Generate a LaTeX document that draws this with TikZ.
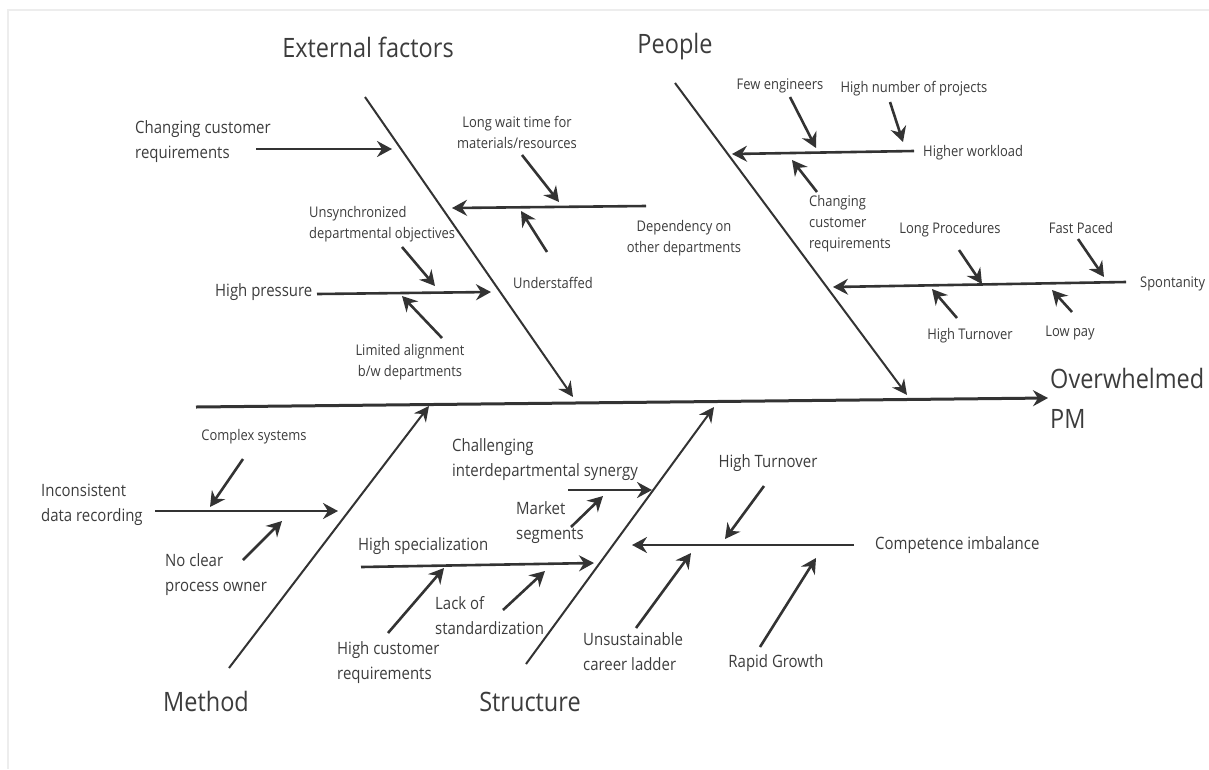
\documentclass[tikz,border=0pt]{standalone}
\usepackage{fontspec}
\setmainfont{Open Sans}[FakeStretch=0.88]
\usepackage{xcolor}
\usetikzlibrary{arrows.meta}
\definecolor{inkgray}{HTML}{333333}
\definecolor{textgray}{HTML}{3C3C3C}
\definecolor{framegray}{HTML}{EDEDED}

\begin{document}
\begin{tikzpicture}[x=1pt,y=-1pt,
  spine/.style={inkgray,line width=3pt,-{Stealth[length=15pt,width=16pt,inset=5pt]}},
  bone/.style={inkgray,line width=2pt,-{Stealth[length=15pt,width=15pt,inset=5pt]}},
  cause/.style={inkgray,line width=2.6pt,-{Stealth[length=15pt,width=16pt,inset=5pt]}},
  titletext/.style={textgray,inner sep=0pt,font=\fontsize{26.7}{40}\selectfont},
  bigtext/.style={textgray,inner sep=0pt,font=\fontsize{17}{25}\selectfont},
  smalltext/.style={textgray,inner sep=0pt,font=\fontsize{14.7}{21}\selectfont}]
  \useasboundingbox (0,0) rectangle (1209,769);
  \draw[framegray,line width=1.5pt] (8,769) -- (8,10) -- (1209,10);

  % category titles and effect
  \node[titletext] (ext) at (368,47) {External factors};
  \node[titletext] (ppl) at (675,47) {People};
  \node[titletext] (mth) at (206,701) {Method};
  \node[titletext] (str) at (530,702) {Structure};
  \node[titletext,anchor=west,align=left] (pm) at (1050,398) {Overwhelmed\\PM};

  % causes: external factors
  \node[bigtext,anchor=west,align=left] (chg) at (135,142) {Changing customer\\requirements};
  \node[smalltext,align=center] (wait) at (517,132) {Long wait time for\\materials/resources};
  \node[smalltext,align=center] (dep) at (684,238) {Dependency on\\other departments};
  \node[smalltext] (staff) at (553,283) {Understaffed};
  \node[smalltext,anchor=west,align=left] (unsync) at (309,224) {Unsynchronized\\departmental objectives};
  \node[bigtext,anchor=west] (press) at (215,292) {High pressure};
  \node[smalltext,align=center] (align) at (410,362) {Limited alignment\\b/w departments};

  % causes: people
  \node[smalltext] (few) at (780,86) {Few engineers};
  \node[smalltext] (proj) at (914,89) {High number of projects};
  \node[smalltext,anchor=west] (work) at (923,153) {Higher workload};
  \node[smalltext,anchor=west,align=left] (creq) at (809,224) {Changing\\customer\\requirements};
  \node[smalltext] (proc) at (950,230) {Long Procedures};
  \node[smalltext] (fast) at (1081,228) {Fast Paced};
  \node[smalltext,anchor=west] (spont) at (1140,284) {Spontanity};
  \node[smalltext] (turn) at (970,336) {High Turnover};
  \node[smalltext] (pay) at (1070,333) {Low pay};

  % causes: method
  \node[smalltext] (cplx) at (254,437) {Complex systems};
  \node[bigtext,anchor=west,align=left] (data) at (41,505) {Inconsistent\\data recording};
  \node[bigtext,anchor=west,align=left] (owner) at (165,575) {No clear\\process owner};

  % causes: structure
  \node[bigtext,anchor=west,align=left] (syn) at (452,460) {Challenging\\interdepartmental synergy};
  \node[bigtext,anchor=west,align=left] (mkt) at (516,523) {Market\\segments};
  \node[bigtext,anchor=west] (spec) at (358,546) {High specialization};
  \node[bigtext,anchor=west,align=left] (hcr) at (337,663) {High customer\\requirements};
  \node[bigtext,anchor=west,align=left] (std) at (435,616) {Lack of\\standardization};
  \node[bigtext,anchor=west] (comp) at (875,545) {Competence imbalance};
  \node[bigtext] (turn2) at (768,463) {High Turnover};
  \node[bigtext,anchor=west,align=left] (ladder) at (583,652) {Unsustainable\\career ladder};
  \node[bigtext] (grow) at (776,663) {Rapid Growth};

  % spine and bones
  \coordinate (sp0) at (196,407); \coordinate (sp1) at (1048,398);
  \coordinate (ex0) at (365,97);  \coordinate (ex1) at (573,397);
  \coordinate (pe0) at (675,83);  \coordinate (pe1) at (907,395);
  \coordinate (me0) at (229,668); \coordinate (me1) at (429,406);
  \coordinate (st0) at (526,664); \coordinate (st1) at (714,407);
  \draw[spine] (sp0) -- (sp1);
  \foreach \a/\b in {ex0/ex1,pe0/pe1,me0/me1,st0/st1}{\draw[bone] (\a) -- (\b);}

  % arrow ends
  \coordinate (cc0) at (256,149); \coordinate (cc1) at (392,149);
  \coordinate (dd0) at (646,206); \coordinate (dd1) at (452,208);
  \coordinate (lw0) at (522,155); \coordinate (lw1) at (559,202);
  \coordinate (us0) at (547,252); \coordinate (us1) at (521,211);
  \coordinate (uo0) at (402,247); \coordinate (uo1) at (435,286);
  \coordinate (hp0) at (317,294); \coordinate (hp1) at (491,292);
  \coordinate (la0) at (442,338); \coordinate (la1) at (402,296);
  \coordinate (hw0) at (914,151); \coordinate (hw1) at (732,154);
  \coordinate (fe0) at (790,97);  \coordinate (fe1) at (816,148);
  \coordinate (hn0) at (890,102); \coordinate (hn1) at (903,142);
  \coordinate (cr0) at (817,192); \coordinate (cr1) at (792,160);
  \coordinate (sy0) at (1126,282); \coordinate (sy1) at (833,287);
  \coordinate (lp0) at (959,250); \coordinate (lp1) at (982,284);
  \coordinate (fp0) at (1078,239); \coordinate (fp1) at (1104,277);
  \coordinate (ht0) at (957,318); \coordinate (ht1) at (932,289);
  \coordinate (py0) at (1072,312); \coordinate (py1) at (1052,290);
  \coordinate (ic0) at (155,511); \coordinate (ic1) at (338,511);
  \coordinate (cs0) at (243,459); \coordinate (cs1) at (210,507);
  \coordinate (nc0) at (243,560); \coordinate (nc1) at (282,521);
  \coordinate (ch0) at (568,490); \coordinate (ch1) at (652,490);
  \coordinate (ms0) at (571,527); \coordinate (ms1) at (603,496);
  \coordinate (hs0) at (361,567); \coordinate (hs1) at (594,563);
  \coordinate (hc0) at (388,633); \coordinate (hc1) at (444,568);
  \coordinate (ls0) at (503,610); \coordinate (ls1) at (545,571);
  \coordinate (ci0) at (854,545); \coordinate (ci1) at (632,545);
  \coordinate (to0) at (764,486); \coordinate (to1) at (725,539);
  \coordinate (ul0) at (636,628); \coordinate (ul1) at (691,553);
  \coordinate (rg0) at (760,647); \coordinate (rg1) at (816,558);
  \foreach \a/\b in {cc0/cc1,dd0/dd1,lw0/lw1,us0/us1,uo0/uo1,hp0/hp1,la0/la1,
    hw0/hw1,fe0/fe1,hn0/hn1,cr0/cr1,sy0/sy1,lp0/lp1,fp0/fp1,ht0/ht1,py0/py1,
    ic0/ic1,cs0/cs1,nc0/nc1,ch0/ch1,ms0/ms1,hs0/hs1,hc0/hc1,ls0/ls1,
    ci0/ci1,to0/to1,ul0/ul1,rg0/rg1}{\draw[cause] (\a) -- (\b);}
\end{tikzpicture}
\end{document}
